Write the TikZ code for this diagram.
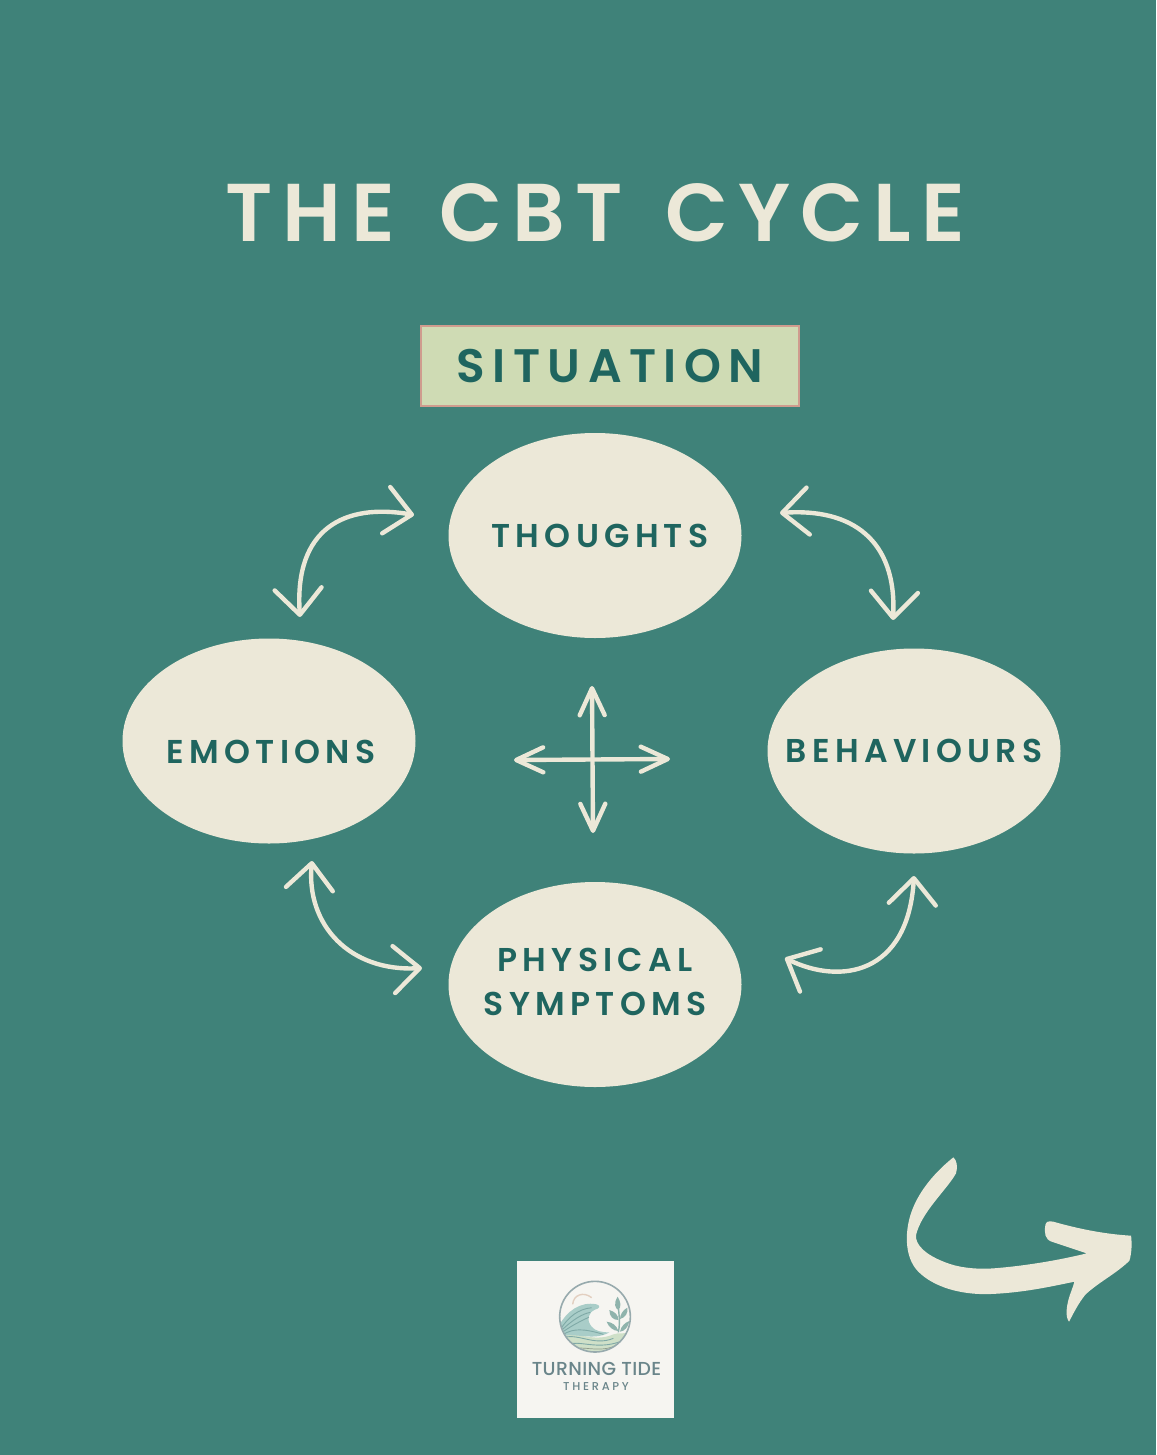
\documentclass[tikz,border=0pt]{standalone}
\usepackage{fontspec}
\usetikzlibrary{shapes.geometric,arrows.meta}
\newfontfamily\titlef[LetterSpace=12]{Poppins SemiBold}
\newfontfamily\sitf[LetterSpace=16]{Poppins SemiBold}
\newfontfamily\labf[LetterSpace=16]{Poppins SemiBold}
\newfontfamily\logof[LetterSpace=2]{Poppins Medium}
\newfontfamily\logog[LetterSpace=24]{Poppins Medium}
\definecolor{bgc}{HTML}{3F8279}
\definecolor{cream}{HTML}{ECE8D8}
\definecolor{ink}{HTML}{1F655F}
\definecolor{sitfill}{HTML}{CFDBB4}
\definecolor{sitline}{HTML}{CF9C8E}
\definecolor{logobg}{HTML}{F6F5F1}
\definecolor{logoink}{HTML}{6A858A}
\definecolor{wave}{HTML}{A9CDC8}
\definecolor{waveline}{HTML}{7FA9A6}
\definecolor{sand}{HTML}{CFE0C8}
\definecolor{sun}{HTML}{E3CFC0}
\definecolor{leaf}{HTML}{8FB3AC}
\tikzset{
  oval/.style={ellipse,fill=cream,minimum width=146.5pt,minimum height=102.5pt,inner sep=0pt,text=ink},
  cyc/.style={draw=cream,line width=2.2pt,line cap=round,line join=round,
    {Straight Barb[length=13pt,width=23.5pt,line width=2.2pt,round]}-{Straight Barb[length=13pt,width=23.5pt,line width=2.2pt,round]}},
  crossarrow/.style={draw=cream,line width=2.2pt,line cap=round,
    {Straight Barb[length=13.5pt,width=12.5pt,line width=2.2pt,round]}-{Straight Barb[length=13.5pt,width=12.5pt,line width=2.2pt,round]}},
}
\begin{document}
\begin{tikzpicture}[x=0.5pt,y=-0.5pt]
\useasboundingbox (0,0) rectangle (1156,1455);
\fill[bgc] (0,0) rectangle (1156,1455);

\node[text=cream,inner sep=0pt] (title) at (595,213) {\titlef\fontsize{41}{48}\selectfont THE\hspace{8pt} CBT\hspace{7pt} CYCLE};

\node[draw=sitline,fill=sitfill,line width=1pt,minimum width=189pt,minimum height=40pt,inner sep=0pt,text=ink] (situation) at (610,366)
  {\sitf\fontsize{23.5}{28}\selectfont SITUATION};

\node[oval] (thoughts) at (595,535.5) {\makebox[0pt]{\hspace{5pt}\labf\fontsize{16.5}{22}\selectfont THOUGHTS}};
\node[oval] (emotions) at (269,741) {\raisebox{-11pt}[0pt][0pt]{\makebox[0pt]{\hspace{2pt}\labf\fontsize{16.5}{22}\selectfont EMOTIONS}}};
\node[oval] (behaviours) at (914,751) {\makebox[0pt]{\labf\fontsize{16.5}{22}\selectfont BEHAVIOURS}};
\node[oval] (physical) at (595,984.5) {\makebox[0pt]{\labf\fontsize{16.5}{22}\selectfont\begin{tabular}{@{}c@{}}PHYSICAL\\SYMPTOMS\end{tabular}}};

% cycle arrows
\coordinate (a1) at (300,617); \coordinate (a2) at (414,515);
\coordinate (b1) at (780,513); \coordinate (b2) at (893,620);
\coordinate (c1) at (312,861); \coordinate (c2) at (422,968);
\coordinate (d1) at (785,958); \coordinate (d2) at (914,876);
\draw[cyc] (a1) .. controls (294,528) and (345,503) .. (a2);
\draw[cyc] (b1) .. controls (852,508) and (897,540) .. (b2);
\draw[cyc] (c1) .. controls (306,925) and (350,972) .. (c2);
\draw[cyc] (d1) .. controls (840,985) and (908,975) .. (d2);

% centre cross
\coordinate (w) at (514,760); \coordinate (e) at (670,759);
\coordinate (n) at (592,686); \coordinate (s) at (593,833);
\draw[crossarrow] (w) -- (e);
\draw[crossarrow] (n) -- (s);

% big brush arrow (traced in crop coordinates)
\begin{scope}[shift={(890,1140)},x=0.1667pt,y=-0.1667pt]
\fill[cream] (190,52) .. controls (200,60) and (204,80) .. (198,100)
  .. controls (170,150) and (95,215) .. (78,285)
  .. controls (75,310) and (100,345) .. (180,372)
  .. controls (220,385) and (270,388) .. (310,385)
  .. controls (400,378) and (500,362) .. (590,340)
  -- (485,305) .. controls (465,298) and (462,280) .. (466,255)
  .. controls (468,245) and (475,242) .. (490,245)
  .. controls (560,265) and (640,282) .. (723,287)
  .. controls (726,310) and (725,340) .. (718,362)
  .. controls (680,400) and (620,430) .. (585,465)
  .. controls (565,490) and (550,520) .. (537,545)
  .. controls (525,530) and (530,500) .. (535,480)
  .. controls (540,460) and (548,445) .. (553,425)
  .. controls (480,440) and (400,458) .. (300,462)
  .. controls (210,465) and (130,440) .. (85,395)
  .. controls (50,360) and (45,300) .. (55,250)
  .. controls (70,170) and (130,100) .. (190,52) -- cycle;
\end{scope}

% logo
\node[fill=logobg,minimum width=78.5pt,minimum height=78.5pt,inner sep=0pt] (logo) at (595,1339) {};
\begin{scope}[shift={(550,1275)},x=0.1667pt,y=-0.1667pt]
\draw[sun,line width=0.7pt] (68,88) .. controls (70,60) and (100,48) .. (125,68);
\begin{scope}
\clip (135,125) circle[radius=106];
\fill[sand] (25,180) .. controls (70,165) and (130,205) .. (190,178) .. controls (210,170) and (225,180) .. (245,170) -- (245,240) -- (25,240) -- cycle;
\fill[wave] (28,150) .. controls (50,110) and (90,78) .. (140,88)
  .. controls (152,92) and (150,100) .. (135,104)
  .. controls (115,112) and (108,135) .. (125,155)
  .. controls (135,168) and (155,172) .. (178,172)
  .. controls (130,200) and (70,170) .. (30,185) -- cycle;
\foreach \d in {0,14,28}{
  \draw[waveline,line width=0.45pt] (30,{165+\d*0.4}) .. controls ({55+\d},{125+\d*0.5}) and ({85+\d},{102+\d}) .. ({125-\d*0.3},{98+\d});
}
\draw[waveline,line width=0.45pt] (40,178) .. controls (70,160) and (100,160) .. (160,178);
\draw[waveline,line width=0.45pt] (35,190) .. controls (80,170) and (130,215) .. (190,190);
\draw[waveline,line width=0.45pt] (50,208) .. controls (90,195) and (140,225) .. (210,200);
\draw[sand!70!black,line width=0.35pt] (70,222) .. controls (100,212) and (140,232) .. (190,215);
\end{scope}
\draw[leaf,line width=0.7pt] (205,172) .. controls (212,140) and (205,105) .. (203,75);
\fill[leaf] (203,65) .. controls (190,85) and (195,100) .. (205,105) .. controls (215,95) and (212,80) .. (203,65) -- cycle;
\fill[leaf] (178,105) .. controls (178,125) and (190,135) .. (205,135) .. controls (205,120) and (195,110) .. (178,105) -- cycle;
\fill[leaf] (232,98) .. controls (218,105) and (210,120) .. (210,132) .. controls (225,128) and (235,115) .. (232,98) -- cycle;
\fill[leaf] (170,140) .. controls (175,155) and (190,168) .. (205,168) .. controls (200,152) and (188,142) .. (170,140) -- cycle;
\fill[leaf] (238,138) .. controls (225,142) and (212,155) .. (210,170) .. controls (225,168) and (235,155) .. (238,138) -- cycle;
\draw[logoink!70!white,line width=0.8pt] (135,125) circle[radius=106];
\end{scope}
\node[text=logoink,inner sep=0pt] (logoa) at (596.5,1369) {\logof\fontsize{9.4}{11}\selectfont TURNING TIDE};
\node[text=logoink,inner sep=0pt] (logob) at (596,1386.5) {\logog\fontsize{5.7}{7}\selectfont THERAPY};
\end{tikzpicture}
\end{document}
